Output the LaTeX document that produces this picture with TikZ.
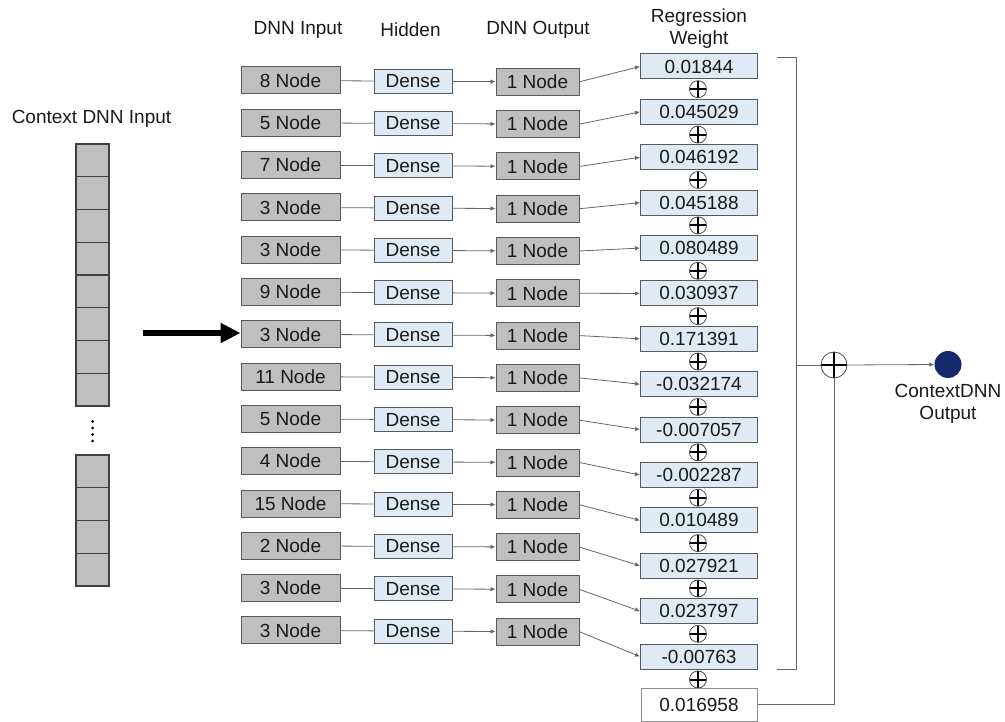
\documentclass[tikz,border=0pt]{standalone}
\usepackage{fontspec}
\setmainfont{Liberation Sans}
\usetikzlibrary{arrows.meta}
\definecolor{boxgray}{HTML}{BFBFBF}
\definecolor{boxblue}{HTML}{DEEBF7}
\definecolor{edgegray}{HTML}{595959}
\definecolor{linegray}{HTML}{666666}
\definecolor{txt}{HTML}{1A1A1A}
\definecolor{navy}{HTML}{14296B}
\begin{document}
\begin{tikzpicture}[x=1pt,y=-1pt,
  font=\fontsize{19}{22}\selectfont, text=txt,
  inbox/.style={draw=edgegray, fill=boxgray, line width=1pt, minimum width=99pt, minimum height=27pt, inner sep=0pt},
  denbox/.style={draw=edgegray, fill=boxblue, line width=1pt, minimum width=78pt, minimum height=24pt, inner sep=0pt},
  outbox/.style={draw=edgegray, fill=boxgray, line width=1pt, minimum width=83pt, minimum height=27pt, inner sep=0pt},
  wbox/.style={draw=edgegray, fill=boxblue, line width=1pt, minimum width=117pt, minimum height=25pt, inner sep=0pt},
  cell/.style={draw=black!75, fill=boxgray, line width=1.3pt, minimum width=33pt, minimum height=32.75pt, inner sep=0pt},
  conn/.style={draw=linegray, line width=0.8pt},
  arr/.style={conn, -{Latex[length=5pt,width=4.5pt]}},
  plus/.style={circle, draw=black!70, line width=0.8pt, minimum size=17pt, inner sep=0pt,
    path picture={\draw[black, line width=2pt] (path picture bounding box.north) -- (path picture bounding box.south)
      (path picture bounding box.west) -- (path picture bounding box.east);}},
  bigplus/.style={circle, draw=black!70, line width=0.8pt, minimum size=26pt, inner sep=0pt,
    path picture={\draw[black, line width=2.4pt] (path picture bounding box.north) -- (path picture bounding box.south)
      (path picture bounding box.west) -- (path picture bounding box.east);}},
  lbl/.style={inner sep=0pt, align=center}
]
\path[use as bounding box] (0,0) rectangle (1005,722);

% headers
\node[lbl] (hin) at (298,30) {DNN Input};
\node[lbl] (hhid) at (410.5,30) {Hidden};
\node[lbl] (hout) at (538,30) {DNN Output};
\node[lbl] (hw1) at (699,18) {Regression};
\node[lbl] (hw2) at (699,40) {Weight};
\node[lbl] (hctx) at (91.5,119) {Context DNN Input};

% rows
\foreach \n/\w [count=\i from 0] in {8/0.01844, 5/0.045029, 7/0.046192, 3/0.045188, 3/0.080489, 9/0.030937, 3/0.171391, 11/-0.032174, 5/-0.007057, 4/-0.002287, 15/0.010489, 2/0.027921, 3/0.023797, 3/-0.00763}{
  \pgfmathsetmacro{\yin}{80.5+42.3*\i}
  \pgfmathsetmacro{\yd}{81.2+42.3*\i}
  \pgfmathsetmacro{\yo}{81.8+42.3*\i}
  \pgfmathsetmacro{\yw}{66.5+45.39*\i}
  \node[inbox] (in\i) at (290.5,\yin) {\n\ Node};
  \node[denbox] (den\i) at (413,\yd) {Dense};
  \node[outbox] (out\i) at (537.5,\yo) {1 Node};
  \node[wbox] (w\i) at (699,\yw) {\w};
  \draw[conn] (in\i) -- (den\i);
  \draw[arr] (den\i) -- (out\i);
  \draw[arr] (out\i.east) -- (w\i.west);
}
% small plus signs
\foreach \i in {0,...,12}{
  \pgfmathsetmacro{\yp}{66.5+45.39*\i+22.7}
  \node[plus] (p\i) at (698,\yp) {};
}
\node[plus] (p13) at (698,679.5) {};
\node[draw=black!45, fill=white, line width=1pt, minimum width=116pt, minimum height=33pt, inner sep=0pt] (bias) at (699,704.5) {0.016958};

% bracket
\coordinate (bt1) at (777,57);
\coordinate (bt2) at (796,57);
\coordinate (bb2) at (796,669);
\coordinate (bb1) at (777,669);
\coordinate (bm) at (796,365);
\draw[conn] (bt1) -- (bt2) -- (bb2) -- (bb1);

\node[bigplus] (sum) at (834,365) {};
\node[circle, fill=navy, minimum size=27pt, inner sep=0pt] (res) at (948,364.5) {};
\node[lbl] (reslbl) at (948,404) {ContextDNN\\Output};
\draw[conn] (bm) -- (sum.west);
\draw[conn] (sum.south) |- (bias.east);
\draw[arr] (sum.east) -- (res.west);

% context input column
\foreach \k in {0,...,7}{
  \pgfmathsetmacro{\yc}{144+32.75*\k+16.375}
  \node[cell] (c\k) at (92.5,\yc) {};
}
\foreach \k in {0,...,3}{
  \pgfmathsetmacro{\yc}{455+32.75*\k+16.375}
  \node[cell] (d\k) at (92.5,\yc) {};
}
\foreach \k in {0,...,3}{
  \fill[black] (92.5,421.5+6.5*\k) circle (1.5);
}
\coordinate (astart) at (143,333);
\draw[line width=5.5pt, -{Triangle[length=20pt,width=19pt]}] (astart) -- (in6.west |- astart);
\end{tikzpicture}
\end{document}
